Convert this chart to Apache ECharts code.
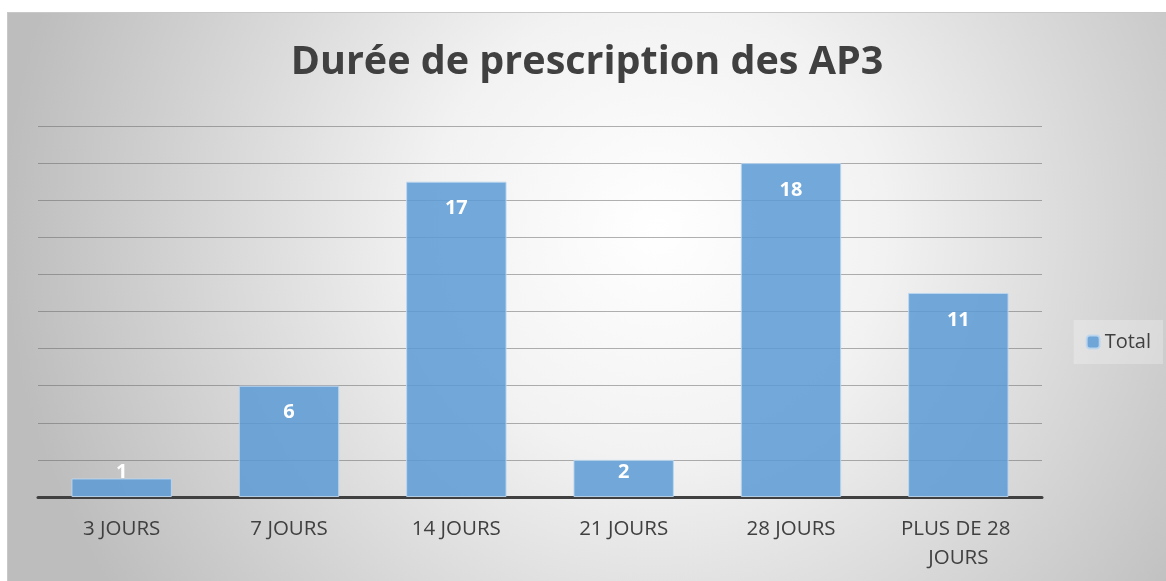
<!DOCTYPE html>
<html>
<head>
<meta charset="utf-8">
<script src="https://cdn.jsdelivr.net/npm/echarts@6/dist/echarts.min.js"></script>
<style>
    html, body { margin: 0; padding: 0; background: #fff; }
    #chart {
        position: absolute;
        left: 7px;
        top: 12px;
        width: 1159px;
        height: 569px;
        box-sizing: border-box;
        border-top: 1px solid #c8c8c8;
        border-left: 1px solid #c8c8c8;
    }
</style>
</head>
<body>
<div id="chart"></div>
<script>
//--------------------------------
// Data
//--------------------------------
const categories = ['3 JOURS', '7 JOURS', '14 JOURS', '21 JOURS', '28 JOURS', 'PLUS DE 28 JOURS'];
const totals = [1, 6, 17, 2, 18, 11];
const seriesName = 'Total';
const titleText = 'Durée de prescription des AP3';

//--------------------------------
// Chart
//--------------------------------
var myChart = echarts.init(document.getElementById('chart'));

// short bars: Excel pushes the label up so it stays readable
const barData = totals.map((v) => {
    if (v <= 2) {
        return { value: v, label: { position: 'insideBottom', distance: 15 } };
    }
    return v;
});

let options = {
    backgroundColor: {
        type: 'radial',
        x: 0.56,
        y: 0.38,
        r: 1.15,
        colorStops: [
            { offset: 0, color: '#ffffff' },
            { offset: 0.35, color: '#f2f2f2' },
            { offset: 1, color: '#bdbdbd' }
        ]
    },
    textStyle: {
        fontFamily: '"Open Sans", "Noto Sans", sans-serif'
    },
    title: {
        text: titleText,
        left: 'center',
        top: 25,
        textStyle: {
            fontSize: 39.5,
            fontWeight: 'bold',
            color: '#404040',
            fontFamily: '"Open Sans", sans-serif'
        }
    },
    legend: {
        right: 3,
        top: 307,
        orient: 'vertical',
        itemWidth: 13,
        itemHeight: 13,
        itemGap: 6,
        padding: [12, 12, 12, 12],
        backgroundColor: 'rgba(255,255,255,0.25)',
        textStyle: {
            fontSize: 20,
            color: '#404040'
        },
        data: [seriesName]
    },
    grid: {
        left: 30,
        right: 124,
        top: 113,
        bottom: 84,
        containLabel: false
    },
    xAxis: {
        type: 'category',
        data: categories,
        axisLine: {
            show: true,
            lineStyle: { color: '#404040', width: 3 }
        },
        axisTick: { show: false },
        axisLabel: {
            fontSize: 20.5,
            color: '#404040',
            margin: 18,
            width: 150,
            overflow: 'break',
            lineHeight: 29,
            interval: 0
        }
    },
    yAxis: {
        type: 'value',
        min: 0,
        max: 20,
        interval: 2,
        axisLabel: { show: false },
        axisLine: { show: false },
        axisTick: { show: false },
        splitLine: {
            lineStyle: { color: 'rgba(100,100,100,0.5)', width: 1 }
        }
    },
    series: [
        {
            name: seriesName,
            type: 'bar',
            barCategoryGap: '40%',
            data: barData,
            itemStyle: {
                color: 'rgba(91,155,213,0.85)',
                borderColor: 'rgba(190,215,240,0.9)',
                borderWidth: 1
            },
            label: {
                show: true,
                position: 'insideTop',
                distance: 17,
                color: '#ffffff',
                fontSize: 20,
                fontWeight: 'bold'
            }
        }
    ]
};
myChart.setOption(options);
</script>
</body>
</html>
